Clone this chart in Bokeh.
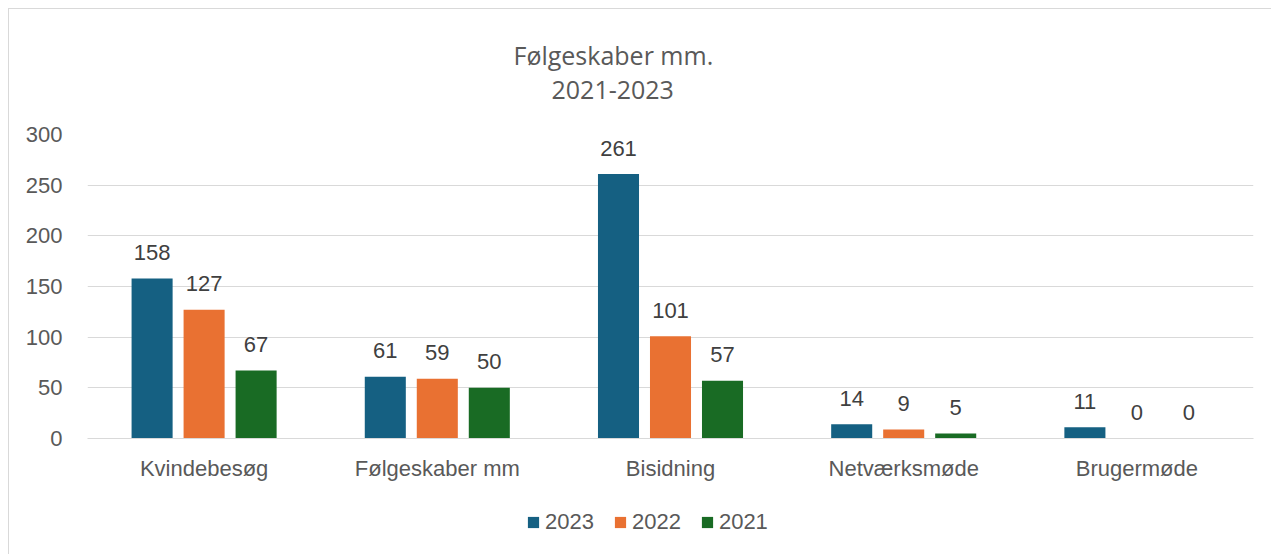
from bokeh.plotting import figure
from bokeh.models import ColumnDataSource, FactorRange, Legend, LegendItem, Title, SingleIntervalTicker
from bokeh.layouts import column
from bokeh.transform import dodge
from bokeh.embed import file_html
from bokeh.resources import INLINE
from bokeh.core.properties import value

categories = ["Kvindebesøg", "Følgeskaber mm", "Bisidning", "Netværksmøde", "Brugermøde"]
years = ["2023", "2022", "2021"]
v2023 = [158, 61, 261, 14, 11]
v2022 = [127, 59, 101, 9, 0]
v2021 = [67, 50, 57, 5, 0]
colors = ["#156082", "#E97132", "#196B24"]
title_line1 = "Følgeskaber mm."
title_line2 = "2021-2023"

src = ColumnDataSource(dict(cat=categories, y2023=v2023, y2022=v2022, y2021=v2021,
                            l2023=[str(v) for v in v2023], l2022=[str(v) for v in v2022],
                            l2021=[str(v) for v in v2021]))

FONT = "Liberation Sans"
TFONT = "Open Sans"
TXT = "#595959"

p = figure(x_range=FactorRange(*categories), y_range=(0, 300),
           width=1262, height=480,
           output_backend="svg", toolbar_location=None,
           min_border_left=78, min_border_right=18, min_border_top=125, min_border_bottom=51)
p.title = None
p.outline_line_color = None

t2 = Title(text=title_line2, align="left", offset=464, standoff=72,
           text_font=TFONT, text_font_size="25px", text_color=TXT, text_font_style="normal")
t1 = Title(text=title_line1, align="left", offset=426, standoff=-59,
           text_font=TFONT, text_font_size="25px", text_color=TXT, text_font_style="normal")
p.add_layout(t2, "above")
p.add_layout(t1, "above")

offsets = [-0.223, 0.0, 0.223]
bw = 0.176
for yr, off, col in zip(years, offsets, colors):
    p.vbar(x=dodge("cat", off, range=p.x_range), top="y" + yr, width=bw, source=src,
           fill_color=col, line_color=None)
    p.text(x=dodge("cat", off, range=p.x_range), y="y" + yr, text="l" + yr, source=src,
           text_align="center", text_baseline="alphabetic", y_offset=-26,
           text_font=value(FONT), text_font_size="22px", text_color="#404040")

p.yaxis.ticker = SingleIntervalTicker(interval=50)
p.yaxis.axis_line_color = None
p.yaxis.major_tick_line_color = None
p.yaxis.minor_tick_line_color = None
p.yaxis.major_tick_out = 0
p.yaxis.major_label_standoff = 21
p.yaxis.major_label_text_font = FONT
p.yaxis.major_label_text_font_size = "22px"
p.yaxis.major_label_text_color = TXT

p.xaxis.axis_line_color = "#d9d9d9"
p.xaxis.major_tick_line_color = None
p.xaxis.major_tick_out = 0
p.xaxis.major_label_standoff = 17
p.xaxis.major_label_text_font = FONT
p.xaxis.major_label_text_font_size = "22px"
p.xaxis.major_label_text_color = TXT

p.xgrid.grid_line_color = None
p.ygrid.grid_line_color = "#d9d9d9"
p.ygrid.grid_line_width = 1

# legend strip below the chart (its bars lie outside its visible range)
p2 = figure(width=1262, height=65, output_backend="svg", toolbar_location=None,
            x_axis_type=None, y_axis_type=None,
            x_range=FactorRange(*categories), y_range=(1000, 1001),
            min_border=0)
p2.title = None
p2.outline_line_color = None
p2.xgrid.grid_line_color = None
p2.ygrid.grid_line_color = None
leg_renderers = [p2.vbar(x="cat", top="y" + yr, width=0.1, source=src, fill_color=c, line_color=None)
                 for yr, c in zip(years, colors)]
legend = Legend(items=[LegendItem(label=yr, renderers=[r]) for yr, r in zip(years, leg_renderers)],
                orientation="horizontal", location=(439, 19),
                glyph_width=14, glyph_height=14, label_standoff=5, spacing=19,
                label_text_font=FONT, label_text_font_size="22px", label_text_color=TXT,
                border_line_color=None, background_fill_alpha=0, margin=0, padding=5)
p2.add_layout(legend)

layout = column(p, p2, spacing=0)
layout.styles = {"margin-left": "8px", "margin-top": "8px",
                 "border-top": "1px solid #d9d9d9", "border-left": "1px solid #d9d9d9"}

open("out.html", "w").write(file_html(layout, INLINE))
